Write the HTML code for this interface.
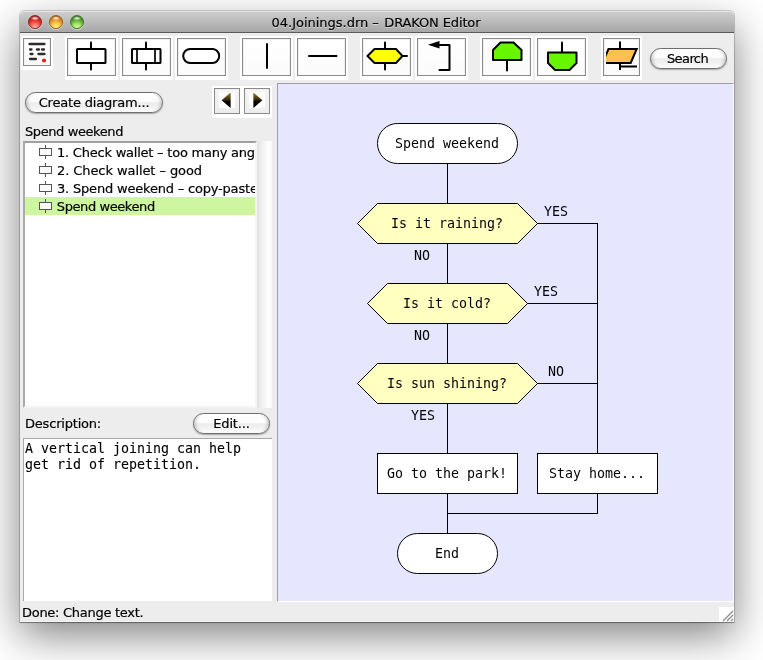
<!DOCTYPE html>
<html><head><meta charset="utf-8"><title>04.Joinings.drn – DRAKON Editor</title>
<style>
html,body{margin:0;padding:0;}
body{width:763px;height:660px;background:#fff;position:relative;overflow:hidden;font-family:"DejaVu Sans","Liberation Sans",sans-serif;font-size:13px;color:#000;-webkit-text-stroke:0.18px #000;}
.abs{position:absolute;}
#win{position:absolute;left:20px;top:11px;width:714px;height:611px;background:#ededed;border-radius:4.500px 4.500px 0 0;box-shadow:inset 0 -1px 0 rgba(255,255,255,.45),0 0 0 1px rgba(0,0,0,.17),0 1px 1px rgba(0,0,0,.3);}
#title{position:absolute;left:0;top:0;width:714px;height:21px;border-radius:4.500px 4.500px 0 0;background:linear-gradient(#cfcfcf,#bdbdbd 45%,#a7a7a7);border-bottom:1px solid #5a5a5a;box-shadow:inset 0 1px 0 #e6e6e6;}
#ttext{position:absolute;left:-1px;width:714px;top:4px;text-align:center;font-size:13px;line-height:16px;color:#000;letter-spacing:-0.02px;text-shadow:0 1px 0 rgba(255,255,255,.5);}
.tl{position:absolute;top:4px;width:14px;height:14px;border-radius:7px;box-sizing:border-box;box-shadow:0 1px 0 rgba(255,255,255,.5);}
.halo{position:absolute;background:#fff;}
.tb{position:absolute;box-sizing:border-box;border:1px solid #8a8a8a;background:linear-gradient(#ffffff,#fbfbfb);box-shadow:inset 1px 1px 0 #f0f0f0,inset -1px 0 0 #f0f0f0;}
.tb svg{position:absolute;left:-1px;top:-1px;}
.pill{position:absolute;box-sizing:border-box;height:21px;border-radius:10.5px;border:1px solid #6e6e6e;background:linear-gradient(#ffffff,#fbfbfb 45%,#ececec 52%,#f2f2f2 75%,#fdfdfd);box-shadow:0 1px 1.500px rgba(0,0,0,.3),inset 4px 0 3px -2px rgba(0,0,0,.16),inset -4px 0 3px -2px rgba(0,0,0,.16);text-align:center;line-height:20px;font-size:13px;}
.lbl{position:absolute;white-space:nowrap;line-height:16px;}
.mono{font-family:"DejaVu Sans Mono","Liberation Mono",monospace;font-size:13.29px;letter-spacing:0;-webkit-text-stroke:0.1px #000;}
#list{position:absolute;left:23px;top:141px;width:234px;height:267px;background:#fff;border-top:2px solid #a0a0a0;border-left:2px solid #aaaaaa;border-right:2px solid #f4f4f4;border-bottom:2px solid #f4f4f4;box-sizing:border-box;overflow:hidden;}
.row{position:absolute;left:0;width:230px;height:18px;white-space:nowrap;overflow:hidden;}
.row span{position:absolute;left:31px;top:2px;line-height:16px;letter-spacing:-0.27px;}
.row svg{position:absolute;left:13px;top:2px;}
</style></head><body>
<div id="root" style="position:absolute;left:0;top:0;width:763px;height:660px;will-change:transform;">
<div class="abs" style="left:20px;top:15px;width:714px;height:607px;box-shadow:0 13px 40px rgba(0,0,0,.5);"></div>
<div id="win">
 <div id="title">
  <div class="tl" style="left:8px;background:radial-gradient(ellipse 4.500px 2.200px at 50% 19%,rgba(255,255,255,.95),rgba(255,255,255,0) 100%),radial-gradient(circle 11.500px at 50% 95%,#ffc0b6 0,#fa6a60 35%,#e8322c 62%,#8a1410 100%);border:1px solid #8a2722;"></div>
  <div class="tl" style="left:29px;background:radial-gradient(ellipse 4.500px 2.200px at 50% 19%,rgba(255,255,255,.95),rgba(255,255,255,0) 100%),radial-gradient(circle 11.500px at 50% 95%,#fff690 0,#fbd050 35%,#f09a2a 62%,#a8560e 100%);border:1px solid #96601c;"></div>
  <div class="tl" style="left:50px;background:radial-gradient(ellipse 4.500px 2.200px at 50% 19%,rgba(255,255,255,.95),rgba(255,255,255,0) 100%),radial-gradient(circle 11.500px at 50% 95%,#dcfca0 0,#a4e068 35%,#62b236 62%,#2c6412 100%);border:1px solid #44762a;"></div>
  <div id="ttext">04.Joinings.drn –<span style="margin-left:1.500px;letter-spacing:-0.13px;"> DRAKON Editor</span></div>
 </div>
</div>

<!-- toolbar -->
<div id="toolbar">
<div class="halo" style="left:21px;top:36px;width:32px;height:34px;"></div>
<div class="tb" style="left:23px;top:38px;width:28px;height:28px;"><svg width="28" height="28"><g stroke="#2c2c2c" stroke-width="2.300" stroke-linecap="round" style="filter:blur(0.3px)"><path d="M6.500 6H21.500"/><path d="M7 11.500H8.500M14 11.500H16M19 11.500H21"/><path d="M7.500 16H9.500M15.500 16H21.500"/><path d="M7 21H13"/></g><circle cx="21" cy="22.500" r="2.100" fill="#ff1a1a"/></svg></div>
<div class="halo" style="left:65px;top:36px;width:53px;height:44px;"></div>
<div class="tb" style="left:67px;top:38px;width:49px;height:38px;"><svg width="49" height="38"><g fill="none" stroke="#000" stroke-width="2"><path d="M24 4.500V31.500" stroke-linecap="round"/><rect x="10" y="11" width="28.500" height="14" rx="0.600" fill="#fff"/></g></svg></div>
<div class="halo" style="left:120px;top:36px;width:53px;height:44px;"></div>
<div class="tb" style="left:122px;top:38px;width:49px;height:38px;"><svg width="49" height="38"><g fill="none" stroke="#000" stroke-width="2"><path d="M24 4.500V31.500" stroke-linecap="round"/><rect x="10" y="11" width="28.500" height="14" rx="0.600" fill="#fff"/><path d="M15 11V25M33 11V25" stroke-width="1.700"/></g></svg></div>
<div class="halo" style="left:175px;top:36px;width:53px;height:44px;"></div>
<div class="tb" style="left:177px;top:38px;width:49px;height:38px;"><svg width="49" height="38"><g fill="none" stroke="#000" stroke-width="2"><rect x="6.200" y="11" width="36" height="14" rx="7" fill="#fff"/></g></svg></div>
<div class="halo" style="left:240px;top:36px;width:53px;height:44px;"></div>
<div class="tb" style="left:242px;top:38px;width:49px;height:38px;"><svg width="49" height="38"><g fill="none" stroke="#000" stroke-width="2"><path d="M25 6V30" stroke-linecap="round"/></g></svg></div>
<div class="halo" style="left:295px;top:36px;width:53px;height:44px;"></div>
<div class="tb" style="left:297px;top:38px;width:49px;height:38px;"><svg width="49" height="38"><g fill="none" stroke="#000" stroke-width="2"><path d="M12 18H39.500" stroke-linecap="round"/></g></svg></div>
<div class="halo" style="left:360px;top:36px;width:53px;height:44px;"></div>
<div class="tb" style="left:362px;top:38px;width:49px;height:38px;"><svg width="49" height="38"><g fill="none" stroke="#000" stroke-width="2"><path d="M23 4.500V31.500M40 18H45" stroke-linecap="round"/><path d="M5.500 18L12.500 11H34L40.500 18L34 25H12.500Z" fill="#ffff00" stroke-linejoin="miter"/></g></svg></div>
<div class="halo" style="left:415px;top:36px;width:53px;height:44px;"></div>
<div class="tb" style="left:417px;top:38px;width:49px;height:38px;"><svg width="49" height="38"><g fill="none" stroke="#000" stroke-width="2"><path d="M22.500 32H32.500V7H20" stroke-linecap="round" stroke-linejoin="round"/><path d="M11 6.700L22.500 3V10.400Z" fill="#000" stroke="none"/></g></svg></div>
<div class="halo" style="left:480px;top:36px;width:53px;height:44px;"></div>
<div class="tb" style="left:482px;top:38px;width:49px;height:38px;"><svg width="49" height="38"><g fill="none" stroke="#000" stroke-width="2"><path d="M25 22V32.500" stroke-linecap="round"/><path d="M11 12L18.500 4.500H31.500L39.500 12V22H11Z" fill="#68f600" stroke-linejoin="round"/></g></svg></div>
<div class="halo" style="left:535px;top:36px;width:53px;height:44px;"></div>
<div class="tb" style="left:537px;top:38px;width:49px;height:38px;"><svg width="49" height="38"><g fill="none" stroke="#000" stroke-width="2"><path d="M25 4.500V14.500" stroke-linecap="round"/><path d="M11 14.500H39.500V25L32.500 32H18L11 25Z" fill="#68f600" stroke-linejoin="round"/></g></svg></div>
<div class="halo" style="left:601px;top:36px;width:41px;height:44px;"></div>
<div class="tb" style="left:603px;top:38px;width:37px;height:38px;overflow:hidden;"><svg width="37" height="38"><defs><clipPath id="cp"><rect x="3" y="0" width="34" height="38"/></clipPath></defs><g fill="none" stroke="#000" stroke-width="2"><path d="M17 3.500V32M17 28.500H34" stroke-linecap="butt"/><path d="M-0.500 25L5.500 11H33.700L27.700 25Z" fill="#fdc04e" clip-path="url(#cp)"/></g></svg></div>
<div class="pill" style="left:650px;top:48px;width:77px;letter-spacing:-0.6px;padding-right:2px;">Search</div>
</div>

<!-- left panel -->
<div class="pill" style="left:25px;top:92px;width:138px;letter-spacing:-0.18px;">Create diagram...</div>
<div class="halo" style="left:212px;top:86px;width:60px;height:32px;"></div>
<div class="tb" style="left:214px;top:88px;width:26px;height:26px;background:linear-gradient(#f6f6f6,#ececec);">
 <svg width="26" height="26"><rect x="5" y="4" width="16" height="16" fill="#fff"/><defs><linearGradient id="g1" x1="0" y1="0" x2="0" y2="1"><stop offset="0" stop-color="#9a7a20"/><stop offset=".45" stop-color="#3a2c08"/><stop offset=".6" stop-color="#000"/></linearGradient></defs><path d="M7.6 12.3 L16.6 4.6 V20 Z" fill="url(#g1)"/></svg>
</div>
<div class="tb" style="left:244px;top:88px;width:26px;height:26px;background:linear-gradient(#f6f6f6,#ececec);">
 <svg width="26" height="26"><rect x="5" y="4" width="16" height="16" fill="#fff"/><path d="M18.4 12.3 L9.4 4.6 V20 Z" fill="url(#g1)"/></svg>
</div>
<div class="lbl" style="left:25px;top:124px;letter-spacing:-0.41px;">Spend weekend</div>

<div id="list">
 <div class="row" style="top:0px;"><svg width="16" height="16"><path d="M1.500 3.500h12v7h-12zM7.500 0v3.500M7.500 10.500v3.500" fill="#f9f9f9" stroke="#555" stroke-width="1" shape-rendering="crispEdges"/></svg><span style="letter-spacing:-0.225px;left:32px;width:197.500px;overflow:hidden;">1. Check wallet – too many angles</span></div>
 <div class="row" style="top:18px;"><svg width="16" height="16"><path d="M1.500 3.500h12v7h-12zM7.500 0v3.500M7.500 10.500v3.500" fill="#f9f9f9" stroke="#555" stroke-width="1" shape-rendering="crispEdges"/></svg><span style="letter-spacing:-0.08px;left:32px;">2. Check wallet – good</span></div>
 <div class="row" style="top:36px;"><svg width="16" height="16"><path d="M1.500 3.500h12v7h-12zM7.500 0v3.500M7.500 10.500v3.500" fill="#f9f9f9" stroke="#555" stroke-width="1" shape-rendering="crispEdges"/></svg><span style="letter-spacing:-0.19px;left:32px;">3. Spend weekend – copy-paste</span></div>
 <div class="row" style="top:54px;background:#cef5a0;"><svg width="16" height="16"><path d="M1.500 3.500h12v7h-12zM7.500 0v3.500M7.500 10.500v3.500" fill="#f9f9f9" stroke="#555" stroke-width="1" shape-rendering="crispEdges"/></svg><span style="left:31.800px;letter-spacing:-0.41px;">Spend weekend</span></div>
</div>
<div class="abs" style="left:257px;top:141px;width:15px;height:267px;background:linear-gradient(90deg,#e2e2e2,#f3f3f3 40%,#fdfdfd 75%,#f8f8f8);"></div>

<div class="lbl" style="left:25px;top:416px;letter-spacing:-0.2px;">Description:</div>
<div class="pill" style="left:193px;top:413px;width:77px;letter-spacing:-0.15px;">Edit...</div>
<div class="abs" style="left:23px;top:438px;width:249px;height:163px;background:#fff;border-top:1px solid #a8a8a8;border-left:1px solid #ababab;box-sizing:border-box;"></div>
<div class="lbl mono" style="left:25px;top:441px;">A vertical joining can help</div>
<div class="lbl mono" style="left:25px;top:457px;">get rid of repetition.</div>

<div class="lbl" style="left:22px;top:605px;letter-spacing:-0.28px;">Done: Change text.</div>

<!-- canvas -->
<div class="abs" style="left:277px;top:83px;width:457px;height:519px;background:#e6e6ff;box-sizing:border-box;border-top:1px solid #9c9cb2;border-left:1px solid #9c9cb2;border-right:1px solid #fff;border-bottom:1px solid #fff;"></div>
<svg class="abs" style="left:0;top:0;" width="763" height="660" id="dia">
 <g fill="none" stroke="#000" stroke-width="1" shape-rendering="crispEdges">
  <path d="M447.500 163V533"/>
  <path d="M537 223.500H597.500V453"/>
  <path d="M527 303.500H597"/>
  <path d="M537 383.500H597"/>
  <path d="M597.500 493V513.500H447"/>
 </g>
 <g stroke="#000" stroke-width="1">
  <rect x="377.500" y="123.500" width="140" height="40" rx="20" fill="#fff"/>
  <path d="M357.500 223.500L377.500 203.500H517.500L537.500 223.500L517.500 243.500H377.500Z" fill="#ffffc0"/>
  <path d="M367.500 303.500L387.500 283.500H507.500L527.500 303.500L507.500 323.500H387.500Z" fill="#ffffc0"/>
  <path d="M357.500 383.500L377.500 363.500H517.500L537.500 383.500L517.500 403.500H377.500Z" fill="#ffffc0"/>
  <rect x="377.500" y="453.500" width="140" height="40" fill="#fff"/>
  <rect x="537.500" y="453.500" width="120" height="40" fill="#fff"/>
  <rect x="397.500" y="533.500" width="100" height="40" rx="20" fill="#fff"/>
 </g>
 <g font-family="'DejaVu Sans Mono','Liberation Mono',monospace" font-size="13.29" fill="#000">
  <text x="395" y="147.500">Spend weekend</text>
  <text x="391" y="227.500">Is it raining?</text>
  <text x="403" y="307.500">Is it cold?</text>
  <text x="387" y="387.500">Is sun shining?</text>
  <text x="387" y="477.500">Go to the park!</text>
  <text x="549" y="477.500">Stay home...</text>
  <text x="435" y="557.500">End</text>
  <text x="544" y="215.500">YES</text>
  <text x="534" y="295.500">YES</text>
  <text x="548" y="375.500">NO</text>
  <text x="414" y="259.500">NO</text>
  <text x="414" y="339.500">NO</text>
  <text x="411" y="419.500">YES</text>
 </g>
</svg>

<!-- resize grip -->
<div class="abs" style="left:719px;top:607px;width:15px;height:15px;background:#fff;">
 <svg width="15" height="15"><path d="M4 14L14 4M8 14L14 8M12 14L14 12" stroke="#8a8a8a" stroke-width="1.200"/></svg>
</div>
</div>
</body></html>
